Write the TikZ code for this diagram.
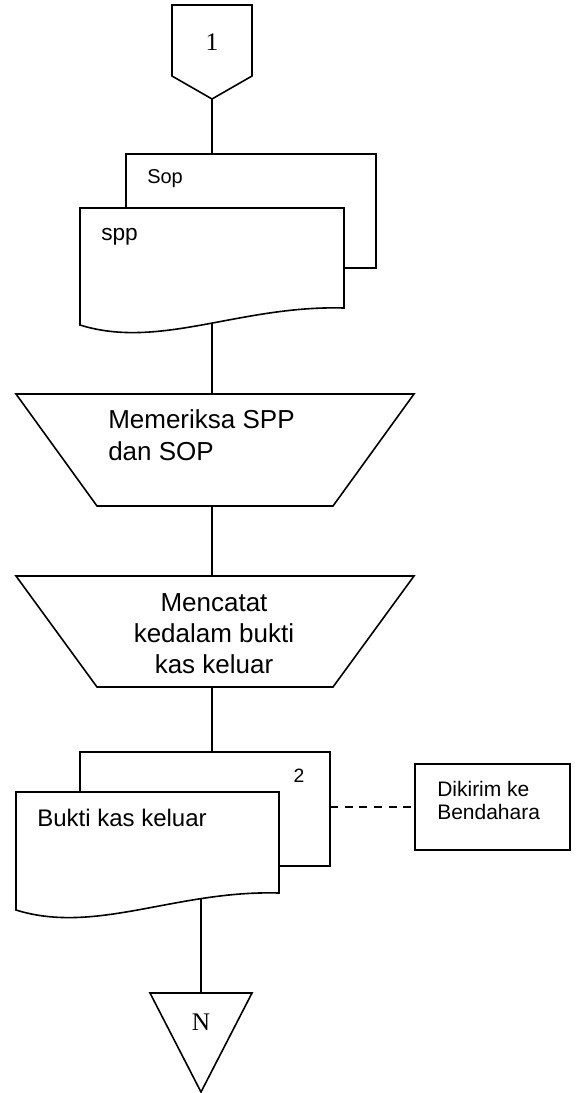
\documentclass[tikz,border=0pt]{standalone}
\usepackage{fontspec}
\setmainfont{Liberation Sans}
\newfontfamily\serifnum{Liberation Serif}
\begin{document}
\begin{tikzpicture}[x=0.75pt,y=-0.75pt,
  shapeline/.style={draw=black, line width=1.2pt, line join=miter},
  docfill/.style={shapeline, fill=white},
  conn/.style={draw=black, line width=1.2pt},
  dashconn/.style={draw=black, line width=1.2pt, dash pattern=on 6pt off 5pt},
  lbl/.style={inner sep=0pt, anchor=base west},
  clbl/.style={inner sep=0pt, anchor=base},
  mlbl/.style={inner sep=0pt, anchor=base west, align=left}]
\useasboundingbox (0,0) rectangle (581,1093);
\fill[white] (0,0) rectangle (581,1093);

% off-page connector 1
\draw[shapeline] (172,5) -- (252,5) -- (252,76) -- (212,99) -- (172,76) -- cycle;
\node[clbl, font=\serifnum\fontsize{19}{22}\selectfont] (one) at (212,50) {1};
\coordinate (oneB) at (212,99);

% documents Sop / spp
\draw[shapeline] (126,154) rectangle (376,268);
\coordinate (sopT) at (212,154);
\node[lbl, font=\fontsize{15}{18}\selectfont] (sop) at (147,183) {Sop};
\draw[docfill] (80,325) -- (80,208) -- (344,208) -- (344,308)
   .. controls (240,305) and (160,350) .. (80,325) -- cycle;
\node[lbl, font=\fontsize{17}{20}\selectfont] (spp) at (101,240) {spp};
\coordinate (sppB) at (212,324);

% manual operation 1
\draw[shapeline] (16,394) -- (414,394) -- (333,506) -- (97,506) -- cycle;
\coordinate (m1T) at (212,394);
\coordinate (m1B) at (212,506);
\node[mlbl, font=\fontsize{19.5}{24}\selectfont] (m1) at (108,460) {Memeriksa SPP\\dan SOP};

% manual operation 2
\draw[shapeline] (16,576) -- (414,576) -- (333,687) -- (97,687) -- cycle;
\coordinate (m2T) at (212,576);
\coordinate (m2B) at (212,687);
\node[clbl, align=center, font=\fontsize{19.5}{23.25}\selectfont] (m2) at (214,673) {Mencatat\\kedalam bukti\\kas keluar};

% documents Bukti kas keluar
\draw[shapeline] (80,752) rectangle (330,866);
\coordinate (bkT) at (212,752);
\coordinate (bkR) at (330,807);
\node[clbl, font=\fontsize{14.5}{17}\selectfont] (two) at (299,782) {2};
\draw[docfill] (16,910) -- (16,792) -- (279,792) -- (279,893)
   .. controls (176,890) and (96,935) .. (16,910) -- cycle;
\node[lbl, font=\fontsize{18}{21}\selectfont] (bk) at (37,826) {Bukti kas keluar};
\coordinate (bkB) at (201,899);

% Dikirim box
\draw[shapeline] (415,764) rectangle (570,850);
\coordinate (dkL) at (415,807);
\node[mlbl, font=\fontsize{15.75}{17.25}\selectfont] (dk) at (437,819) {Dikirim ke\\Bendahara};

% terminal N
\draw[shapeline] (150,993) -- (252,993) -- (201,1092) -- cycle;
\coordinate (nT) at (201,993);
\node[clbl, font=\serifnum\fontsize{19}{22}\selectfont] (N) at (201,1030) {N};

% connectors
\draw[conn] (oneB) -- (sopT);
\draw[conn] (sppB) -- (m1T);
\draw[conn] (m1B) -- (m2T);
\draw[conn] (m2B) -- (bkT);
\draw[conn] (bkB) -- (nT);
\draw[dashconn] (bkR) -- (dkL);
\end{tikzpicture}
\end{document}
